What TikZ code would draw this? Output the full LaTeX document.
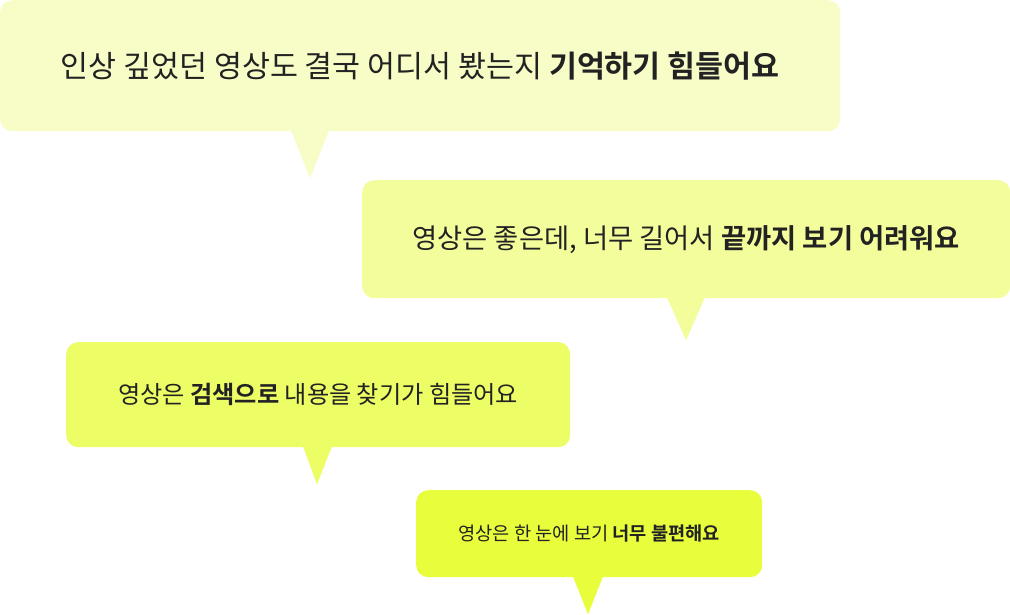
\documentclass[tikz,border=0pt]{standalone}
\usepackage{fontspec}
\usetikzlibrary{calc}
\newfontfamily\kr{Noto Sans CJK KR}[BoldFont={Noto Sans CJK KR Bold}]
\definecolor{cA}{RGB}{248,253,199}
\definecolor{cB}{RGB}{244,253,155}
\definecolor{cC}{RGB}{237,253,101}
\definecolor{cD}{RGB}{232,253,60}
\definecolor{ink}{RGB}{34,34,34}
\tikzset{
  bubble/.style={rounded corners=12pt, inner sep=0pt, anchor=north west, text=ink, font=\kr},
}
\begin{document}
\begin{tikzpicture}[x=1pt,y=-1pt]
\useasboundingbox (0,0) rectangle (1010,615);
% bubble 1
\node[bubble, fill=cA, minimum width=840pt, minimum height=131pt] (b1) at (0,0)
  {\fontsize{30.4}{36}\selectfont 인상 깊었던 영상도 결국 어디서 봤는지 \textbf{기억하기 힘들어요}};
\fill[cA] ($(b1.south west)+(291,-1)$) -- ($(b1.south west)+(310,47)$) -- ($(b1.south west)+(329,-1)$) -- cycle;
% bubble 2
\node[bubble, fill=cB, minimum width=648pt, minimum height=118pt] (b2) at (362,180)
  {\fontsize{27.35}{32}\selectfont 영상은 좋은데, 너무 길어서 \textbf{끝까지 보기 어려워요}};
\fill[cB] ($(b2.south west)+(305,-1)$) -- ($(b2.south west)+(324,42)$) -- ($(b2.south west)+(343,-1)$) -- cycle;
% bubble 3
\node[bubble, fill=cC, minimum width=504pt, minimum height=105pt] (b3) at (66,342)
  {\fontsize{24.2}{29}\selectfont 영상은 \textbf{검색으로} 내용을 찾기가 힘들어요};
\fill[cC] ($(b3.south west)+(237,-1)$) -- ($(b3.south west)+(251,37)$) -- ($(b3.south west)+(266,-1)$) -- cycle;
% bubble 4
\node[bubble, fill=cD, minimum width=346pt, minimum height=87pt] (b4) at (416,490)
  {\fontsize{18.7}{22}\selectfont 영상은 한 눈에 보기 \textbf{너무 불편해요}};
\fill[cD] ($(b4.south west)+(157,-1)$) -- ($(b4.south west)+(172,37)$) -- ($(b4.south west)+(187,-1)$) -- cycle;
\end{tikzpicture}
\end{document}
